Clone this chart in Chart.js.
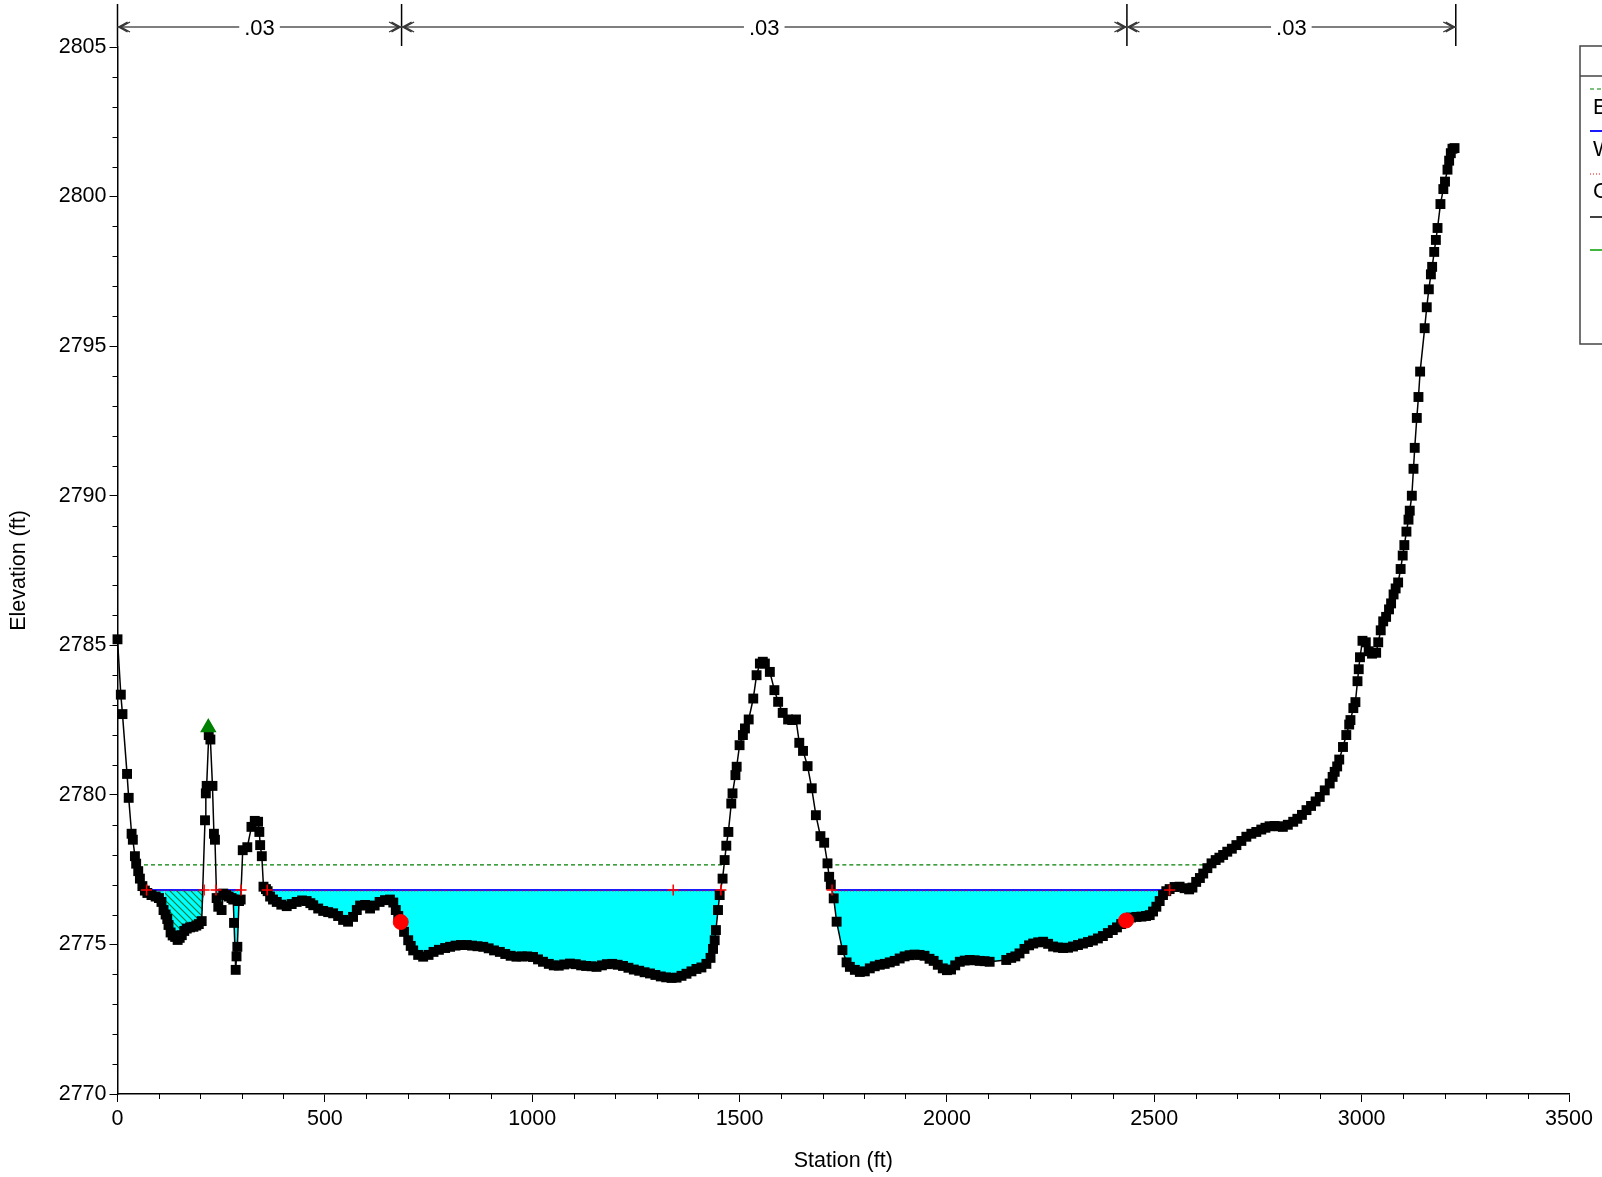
<!DOCTYPE html>
<html>
<head>
<meta charset="utf-8">
<script src="https://cdn.jsdelivr.net/npm/chart.js@4.4.1/dist/chart.umd.min.js"></script>
<style>
  html, body { margin: 0; padding: 0; background: #ffffff; }
  canvas { display: block; }
</style>
</head>
<body>
<canvas id="c" width="1602" height="1177"></canvas>
<script>
// ---------------- DATA ----------------
const stations = [
  0, 8, 12, 23, 27, 34, 37, 42, 45, 50, 54, 60, 66, 72, 82, 92, 100, 106, 111, 116,
  120, 123, 128, 133, 139, 145, 150, 155, 161, 167, 175, 183, 190, 196, 203, 211, 213, 215, 220, 224,
  229, 232.5, 235, 239, 243, 251, 255, 262, 268, 275, 279, 281, 285, 287, 289, 293, 297, 302, 313, 323,
  331, 339, 342, 344, 348, 352, 358, 362, 368, 375, 384, 395, 408, 420, 432, 445, 456, 465, 472, 484,
  496, 508, 520, 532, 544, 556, 568, 577, 585, 597, 609, 620, 632, 645, 657, 665, 671, 677, 683, 691,
  701, 707, 713, 725, 737, 750, 762, 775, 790, 802, 815, 828, 842, 855, 868, 882, 895, 908, 922, 935,
  948, 962, 975, 988, 1002, 1014, 1026, 1040, 1052, 1064, 1077, 1091, 1105, 1118, 1130, 1143, 1155, 1168, 1180, 1193,
  1206, 1219, 1232, 1245, 1258, 1271, 1284, 1297, 1310, 1323, 1336, 1348, 1360, 1372, 1384, 1396, 1408, 1420, 1430, 1436,
  1440, 1443, 1448, 1452, 1459, 1464, 1468, 1473, 1480, 1483, 1490, 1493, 1500, 1508, 1513, 1522, 1533, 1541, 1549, 1556,
  1561, 1573, 1584, 1593, 1604, 1617, 1627, 1636, 1644, 1653, 1664, 1674, 1684, 1695, 1704, 1712, 1716, 1720, 1727, 1734,
  1748, 1758, 1766, 1778, 1790, 1802, 1814, 1826, 1838, 1850, 1862, 1874, 1886, 1898, 1910, 1922, 1934, 1946, 1958, 1968,
  1978, 1990, 2000, 2010, 2020, 2031, 2043, 2055, 2067, 2079, 2091, 2103, 2143, 2155, 2165, 2175, 2187, 2198, 2208, 2220,
  2232, 2244, 2256, 2268, 2280, 2292, 2304, 2316, 2328, 2340, 2352, 2364, 2376, 2388, 2400, 2410, 2420, 2432, 2444, 2457,
  2469, 2480, 2489, 2497, 2505, 2513, 2521, 2529, 2537, 2549, 2561, 2573, 2584, 2592, 2601, 2610, 2618, 2628, 2638, 2648,
  2657, 2666, 2676, 2687, 2698, 2710, 2722, 2734, 2746, 2758, 2768, 2778, 2790, 2800, 2810, 2822, 2835, 2845, 2856, 2867,
  2878, 2889, 2899, 2911, 2923, 2930, 2935, 2941, 2946, 2955, 2963, 2970, 2973, 2980, 2985, 2990, 2993, 2996, 3002, 3010,
  3017, 3025, 3035, 3040, 3046, 3052, 3059, 3066, 3071, 3077, 3082, 3088, 3094, 3099, 3103, 3108, 3113, 3116, 3121, 3125,
  3128, 3133, 3137, 3141, 3152, 3157, 3162, 3167, 3170, 3175, 3179, 3183, 3190, 3197, 3201, 3207, 3211, 3215, 3219, 3224
];
const elevations = [
  2785.2, 2783.35, 2782.7, 2780.7, 2779.9, 2778.7, 2778.5, 2777.95, 2777.7, 2777.45, 2777.2, 2776.95, 2776.8, 2776.72, 2776.65, 2776.6, 2776.55, 2776.42, 2776.15, 2776.0,
  2775.85, 2775.65, 2775.4, 2775.3, 2775.25, 2775.15, 2775.22, 2775.31, 2775.45, 2775.53, 2775.57, 2775.59, 2775.63, 2775.68, 2775.78, 2779.15, 2780.05, 2780.3, 2782.0, 2781.85,
  2780.3, 2778.7, 2778.5, 2776.55, 2776.26, 2776.15, 2776.7, 2776.65, 2776.6, 2776.55, 2776.5, 2775.72, 2774.15, 2774.6, 2774.92, 2776.45, 2776.5, 2778.15, 2778.25, 2778.93,
  2779.13, 2779.1, 2778.76, 2778.32, 2777.95, 2776.93, 2776.85, 2776.78, 2776.6, 2776.5, 2776.42, 2776.33, 2776.28, 2776.35, 2776.42, 2776.47, 2776.45, 2776.38, 2776.31, 2776.2,
  2776.12, 2776.08, 2776.04, 2775.95, 2775.82, 2775.76, 2775.92, 2776.15, 2776.3, 2776.32, 2776.2, 2776.3, 2776.42, 2776.48, 2776.5, 2776.4, 2776.15, 2775.95, 2775.75, 2775.42,
  2775.14, 2774.95, 2774.8, 2774.65, 2774.59, 2774.65, 2774.75, 2774.82, 2774.88, 2774.92, 2774.96, 2774.98, 2774.98, 2774.96, 2774.94, 2774.92, 2774.87, 2774.8, 2774.75, 2774.68,
  2774.62, 2774.59, 2774.6, 2774.6, 2774.58, 2774.5, 2774.42, 2774.35, 2774.3, 2774.29, 2774.33, 2774.36, 2774.34, 2774.3, 2774.28, 2774.27, 2774.25, 2774.3, 2774.34, 2774.35,
  2774.32, 2774.28, 2774.22, 2774.16, 2774.12, 2774.07, 2774.03, 2773.98, 2773.93, 2773.9, 2773.88, 2773.89, 2773.95, 2774.02, 2774.1, 2774.18, 2774.23, 2774.35, 2774.55, 2774.85,
  2775.14, 2775.48, 2776.15, 2776.65, 2777.2, 2777.82, 2778.3, 2778.76, 2779.71, 2780.05, 2780.66, 2780.94, 2781.66, 2782.0, 2782.22, 2782.52, 2783.22, 2784.0, 2784.39, 2784.45,
  2784.39, 2784.11, 2783.5, 2783.11, 2782.74, 2782.52, 2782.5, 2782.52, 2781.74, 2781.47, 2780.96, 2780.22, 2779.32, 2778.62, 2778.4, 2777.71, 2777.26, 2777.0, 2776.54, 2775.76,
  2774.81, 2774.4, 2774.25, 2774.15, 2774.08, 2774.1, 2774.2, 2774.27, 2774.32, 2774.35, 2774.4, 2774.45, 2774.53, 2774.6, 2774.64, 2774.66, 2774.65, 2774.62, 2774.52, 2774.45,
  2774.32, 2774.2, 2774.14, 2774.16, 2774.3, 2774.42, 2774.46, 2774.48, 2774.47, 2774.45, 2774.44, 2774.42, 2774.48, 2774.55, 2774.6, 2774.7, 2774.85, 2774.97, 2775.03, 2775.07,
  2775.09, 2775.02, 2774.93, 2774.9, 2774.88, 2774.89, 2774.93, 2774.98, 2775.03, 2775.08, 2775.13, 2775.2, 2775.28, 2775.38, 2775.48, 2775.57, 2775.68, 2775.8, 2775.9, 2775.92,
  2775.93, 2775.95, 2775.98, 2776.1, 2776.26, 2776.45, 2776.65, 2776.78, 2776.85, 2776.92, 2776.93, 2776.88, 2776.84, 2776.9, 2777.09, 2777.22, 2777.37, 2777.55, 2777.71, 2777.82,
  2777.9, 2777.99, 2778.1, 2778.2, 2778.32, 2778.46, 2778.6, 2778.7, 2778.76, 2778.84, 2778.9, 2778.95, 2778.96, 2778.95, 2778.93, 2779.0, 2779.1, 2779.2, 2779.33, 2779.49,
  2779.63, 2779.78, 2779.93, 2780.15, 2780.38, 2780.6, 2780.77, 2780.95, 2781.18, 2781.6, 2782.0, 2782.35, 2782.5, 2782.9, 2783.1, 2783.8, 2784.2, 2784.6, 2785.15, 2785.1,
  2784.8, 2784.72, 2784.75, 2785.1, 2785.5, 2785.8, 2785.95, 2786.2, 2786.4, 2786.7, 2786.9, 2787.1, 2787.55, 2788.0, 2788.35, 2788.8, 2789.2, 2789.5, 2790.0, 2790.9,
  2791.6, 2792.6, 2793.3, 2794.15, 2795.6, 2796.3, 2796.9, 2797.4, 2797.65, 2798.15, 2798.55, 2798.95, 2799.75, 2800.25, 2800.5, 2800.9, 2801.2, 2801.45, 2801.6, 2801.62
];

const wsElev = 2776.82;        // WS PF 1
const critElev = 2776.79;      // Crit PF 1
const egElev = 2777.66;        // EG PF 1
const wsLeft  = [70, 237.5, 361, 1723];
const wsRight = [209, 298, 1455, 2537];
const egLeft  = [47, 1714];
const egRight = [1461, 2638];
const critMarkStations = [70, 209, 237.5, 298, 361, 1340, 1455, 1723, 2537];
const ineffLeft = [114];
const ineffRight = [209];
const bankStations = [683, 2432];
const bankElevations = [2775.75, 2775.8];
const leveeStations = [219];
const leveeElevations = [2782.25];
const nValueStations = [0, 685, 2434, 3227];
const nValues = ['.03', '.03', '.03'];
const xTickValues = [0, 500, 1000, 1500, 2000, 2500, 3000, 3500];
const yTickValues = [2770, 2775, 2780, 2785, 2790, 2795, 2800, 2805];
const legendLabels = ['EG PF 1', 'WS PF 1', 'Crit PF 1', 'Ground', 'Levee'];

// ---------------- HELPERS ----------------
function groundAt(s) {
  for (let i = 0; i < stations.length - 1; i++) {
    if (s >= stations[i] && s <= stations[i + 1]) {
      const t = (s - stations[i]) / (stations[i + 1] - stations[i]);
      return elevations[i] + t * (elevations[i + 1] - elevations[i]);
    }
  }
  return elevations[elevations.length - 1];
}
function wetSegment(l, r, level) {
  const pts = [{x: l, y: Math.min(level, groundAt(l))}];
  for (let i = 0; i < stations.length; i++) {
    if (stations[i] > l && stations[i] < r) pts.push({x: stations[i], y: Math.min(level, elevations[i])});
  }
  pts.push({x: r, y: Math.min(level, groundAt(r))});
  return pts;
}
function joinSegments(segs) {
  const out = [];
  segs.forEach((seg, i) => {
    if (i > 0) out.push({x: seg[0].x - 0.001, y: null});
    seg.forEach(p => out.push(p));
  });
  return out;
}
function levelSegments(lefts, rights, level) {
  return joinSegments(lefts.map((l, i) => [{x: l, y: level}, {x: rights[i], y: level}]));
}

// water fill: wet ranges with the ineffective part cut out
const cyanRanges = [];
wsLeft.forEach((l, i) => {
  let a = l, b = wsRight[i];
  ineffLeft.forEach((il, k) => {
    const ir = ineffRight[k];
    if (il > a && il < b && ir >= b) b = il;
  });
  cyanRanges.push([a, b]);
});
const cyanData = joinSegments(cyanRanges.map(r => wetSegment(r[0], r[1], wsElev)));
const ineffData = joinSegments(ineffLeft.map((l, i) => wetSegment(l, ineffRight[i], wsElev)));

// hatch pattern for ineffective flow area
function makeHatch() {
  const c = document.createElement('canvas');
  c.width = 7; c.height = 7;
  const g = c.getContext('2d');
  g.fillStyle = '#00ffff';
  g.fillRect(0, 0, 7, 7);
  g.strokeStyle = '#007a30';
  g.lineWidth = 1.1;
  g.beginPath();
  g.moveTo(-1, -1); g.lineTo(8, 8);
  g.moveTo(-8, -1); g.lineTo(1, 8);
  g.moveTo(6, -1); g.lineTo(15, 8);
  g.stroke();
  return g.createPattern(c, 'repeat');
}

const FONT = '"Liberation Sans", Arial, Helvetica, sans-serif';
const FS = 21.5;

// ---------------- PLUGINS ----------------
const minorTicks = {
  id: 'minorTicks',
  afterDraw(chart) {
    const {ctx, chartArea, scales} = chart;
    const xs = scales.x, ys = scales.y;
    ctx.save();
    ctx.strokeStyle = '#000';
    ctx.lineWidth = 1;
    ctx.beginPath();
    for (let v = xs.min; v <= xs.max; v += 100) {
      if (v % 500 === 0) continue;
      const px = Math.round(xs.getPixelForValue(v)) + 0.5;
      ctx.moveTo(px, chartArea.bottom); ctx.lineTo(px, chartArea.bottom + 5);
    }
    for (let v = ys.min; v <= ys.max; v += 1) {
      if (v % 5 === 0) continue;
      const py = Math.round(ys.getPixelForValue(v)) + 0.5;
      ctx.moveTo(chartArea.left, py); ctx.lineTo(chartArea.left - 5, py);
    }
    ctx.stroke();
    ctx.restore();
  }
};

const nValuePlugin = {
  id: 'nValues',
  afterDraw(chart) {
    const {ctx, chartArea, scales} = chart;
    const xs = scales.x;
    const yLine = chartArea.top - 20;
    ctx.save();
    ctx.strokeStyle = '#000';
    ctx.lineWidth = 1.5;
    ctx.beginPath();
    nValueStations.forEach(s => {
      const px = xs.getPixelForValue(s);
      ctx.moveTo(px, chartArea.top - 43); ctx.lineTo(px, chartArea.top - 1);
    });
    ctx.stroke();
    ctx.font = '22px ' + FONT;
    ctx.textAlign = 'center';
    ctx.textBaseline = 'middle';
    for (let i = 0; i < nValues.length; i++) {
      const a = xs.getPixelForValue(nValueStations[i]);
      const b = xs.getPixelForValue(nValueStations[i + 1]);
      const mid = (a + b) / 2;
      const tw = ctx.measureText(nValues[i]).width;
      ctx.strokeStyle = '#555';
      ctx.lineWidth = 1.4;
      ctx.beginPath();
      ctx.moveTo(a, yLine); ctx.lineTo(mid - tw / 2 - 5, yLine);
      ctx.moveTo(mid + tw / 2 + 5, yLine); ctx.lineTo(b, yLine);
      ctx.stroke();
      ctx.strokeStyle = '#333';
      ctx.lineWidth = 1.2;
      ctx.beginPath();
      [0, 2.5].forEach(o => {
        ctx.moveTo(a + 10 + o, yLine - 5); ctx.lineTo(a + 1 + o, yLine); ctx.lineTo(a + 10 + o, yLine + 5);
        ctx.moveTo(b - 10 - o, yLine - 5); ctx.lineTo(b - 1 - o, yLine); ctx.lineTo(b - 10 - o, yLine + 5);
      });
      ctx.stroke();
      ctx.fillStyle = '#000';
      ctx.fillText(nValues[i], mid, yLine + 2);
    }
    ctx.restore();
  }
};

const sideLegend = {
  id: 'sideLegend',
  afterDraw(chart) {
    const {ctx, chartArea} = chart;
    const left = chartArea.right + 11;
    const top = chartArea.top - 1;
    ctx.save();
    ctx.strokeStyle = '#444';
    ctx.lineWidth = 1.5;
    ctx.strokeRect(left, top, 200, 298);
    ctx.beginPath();
    ctx.moveTo(left, top + 30); ctx.lineTo(left + 200, top + 30);
    ctx.stroke();
    ctx.font = FS + 'px ' + FONT;
    ctx.textBaseline = 'middle';
    ctx.fillStyle = '#000';
    ctx.fillText('Legend', left + 40, top + 15);
    const byLabel = {};
    chart.data.datasets.forEach(d => { byLabel[d.label] = d; });
    const lineYs = [43, 85, 128, 171, 204];
    const textYs = [62, 104, 146];
    legendLabels.forEach((lab, i) => {
      const d = byLabel[lab];
      if (!d) return;
      ctx.strokeStyle = d.borderColor;
      ctx.lineWidth = d.borderWidth || 1;
      ctx.setLineDash(d.borderDash || []);
      ctx.beginPath();
      ctx.moveTo(left + 10, top + lineYs[i]); ctx.lineTo(left + 60, top + lineYs[i]);
      ctx.stroke();
      ctx.setLineDash([]);
      if (i < textYs.length) ctx.fillText(lab, left + 13, top + textYs[i]);
    });
    ctx.restore();
  }
};

// ---------------- CHART ----------------
const groundData = stations.map((s, i) => ({x: s, y: elevations[i]}));
const critMarks = critMarkStations.map(s => ({x: s, y: wsElev}));
const bankData = bankStations.map((s, i) => ({x: s, y: bankElevations[i]}));
const leveeData = leveeStations.map((s, i) => ({x: s, y: leveeElevations[i]}));

const ctx = document.getElementById('c').getContext('2d');
new Chart(ctx, {
  type: 'line',
  data: {
    datasets: [
      {label: 'Bank Sta', data: bankData, showLine: false, pointStyle: 'circle', pointRadius: 7.5,
       pointBackgroundColor: '#ff0000', pointBorderColor: '#ff0000', borderColor: '#ff0000', order: 0},
      {label: 'Levee', data: leveeData, showLine: false, pointStyle: 'triangle', pointRadius: 8,
       pointBackgroundColor: '#008000', pointBorderColor: '#008000', borderColor: '#00a000', borderWidth: 1.5, order: 0},
      {label: 'Crit marks', data: critMarks, showLine: false, pointStyle: 'cross', pointRadius: 5.5,
       pointBorderColor: '#ff0000', pointBorderWidth: 1.5, borderColor: '#ff0000', order: 1},
      {label: 'Ground', data: groundData, borderColor: '#000000', borderWidth: 1.5, pointStyle: 'rect',
       pointRadius: 7, pointBackgroundColor: '#000000', pointBorderColor: '#000000', pointBorderWidth: 0,
       tension: 0, clip: false, order: 2},
      {label: 'Crit PF 1', data: levelSegments(wsLeft, wsRight, critElev), borderColor: '#ff0000', borderWidth: 1,
       borderDash: [1, 2], pointRadius: 0, order: 3},
      {label: 'WS PF 1', data: levelSegments(wsLeft, wsRight, wsElev), borderColor: '#1a1aff', borderWidth: 2,
       pointRadius: 0, order: 4},
      {label: 'EG PF 1', data: levelSegments(egLeft, egRight, egElev), borderColor: '#008000', borderWidth: 1.2,
       borderDash: [4, 3], pointRadius: 0, order: 5},
      {label: 'Ineff', data: ineffData, borderWidth: 0, borderColor: 'rgba(0,0,0,0)', pointRadius: 0,
       backgroundColor: makeHatch(), fill: {value: wsElev}, order: 8},
      {label: 'Water', data: cyanData, borderWidth: 0, borderColor: 'rgba(0,0,0,0)', pointRadius: 0,
       backgroundColor: '#00ffff', fill: {value: wsElev}, order: 9}
    ]
  },
  options: {
    responsive: false,
    animation: false,
    devicePixelRatio: 1,
    spanGaps: false,
    layout: {padding: {top: 47, right: 33, left: 0, bottom: 0}},
    plugins: {
      legend: {display: false},
      tooltip: {enabled: false},
      filler: {propagate: false}
    },
    scales: {
      x: {
        type: 'linear', min: 0, max: 3500,
        afterBuildTicks: s => { s.ticks = xTickValues.map(v => ({value: v})); },
        afterFit: s => { s.height = 83; },
        grid: {display: true, drawOnChartArea: false, drawTicks: true, tickLength: 8, color: '#000', lineWidth: 1},
        border: {display: true, color: '#000', width: 1.5},
        ticks: {color: '#000', font: {family: FONT, size: FS}, padding: 4, maxRotation: 0, autoSkip: false,
                callback: v => String(v)},
        title: {display: true, text: 'Station (ft)', color: '#000', font: {family: FONT, size: FS}, padding: {top: 0, bottom: 3}}
      },
      y: {
        type: 'linear', min: 2770, max: 2805,
        afterBuildTicks: s => { s.ticks = yTickValues.map(v => ({value: v})); },
        afterFit: s => { s.width = 117.5; },
        grid: {display: true, drawOnChartArea: false, drawTicks: true, tickLength: 8, color: '#000', lineWidth: 1},
        border: {display: true, color: '#000', width: 1.5},
        ticks: {color: '#000', font: {family: FONT, size: FS}, padding: 3, autoSkip: false,
                callback: v => String(v)},
        title: {display: true, text: 'Elevation (ft)', color: '#000', font: {family: FONT, size: FS}, padding: {top: 6, bottom: 0}}
      }
    }
  },
  plugins: [minorTicks, nValuePlugin, sideLegend]
});
</script>
</body>
</html>
